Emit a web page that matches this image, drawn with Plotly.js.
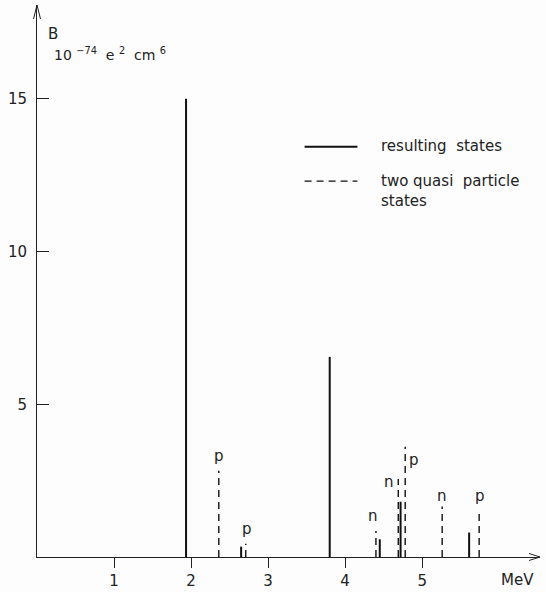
<!DOCTYPE html>
<html>
<head>
<meta charset="utf-8">
<script src="https://cdn.plot.ly/plotly-3.0.1.min.js"></script>
<style>html,body{margin:0;padding:0;background:#fff;}</style>
</head>
<body>
<div id="chart" style="width:546px;height:592px;"></div>
<script>
// Data (energy in MeV, B in 10^-74 e^2 cm^6)
const solidE = [1.935, 2.65, 3.80, 4.45, 4.72, 5.61];
const solidB = [15.0, 0.34, 6.55, 0.58, 1.81, 0.80];
const dashE = [2.36, 2.71, 4.40, 4.69, 4.78, 5.26, 5.74];
const dashB = [2.82, 0.43, 0.85, 2.55, 3.61, 1.65, 1.43];
const dashLabels = ['p', 'p', 'n', 'n', 'p', 'n', 'p'];
const xTicks = [1, 2, 3, 4, 5];
const yTicks = [5, 10, 15];

// label placement offsets (pixels), style only
const labelShift = [[0, 4], [1, 4], [-3, 4], [-9, -14], [9, -24], [0, 0], [1, 6]];

function sticks(xs, ys) {
  const X = [], Y = [];
  xs.forEach((x, i) => { X.push(x, x, null); Y.push(0, ys[i], null); });
  return {X, Y};
}
const s = sticks(solidE, solidB);
const d = sticks(dashE, dashB);
const ink = '#222222';
const font = {family: 'DejaVu Sans, sans-serif', size: 15, color: ink};

const traces = [
  {x: s.X, y: s.Y, mode: 'lines', line: {color: '#111', width: 2}, hoverinfo: 'skip', showlegend: false},
  {x: d.X, y: d.Y, mode: 'lines', line: {color: '#111', width: 1.4, dash: '7px,5px'}, hoverinfo: 'skip', showlegend: false}
];

const annotations = dashLabels.map((t, i) => ({
  x: dashE[i], y: dashB[i], xref: 'x', yref: 'y', text: t, showarrow: false,
  xanchor: 'center', yanchor: 'bottom', xshift: labelShift[i][0], yshift: labelShift[i][1],
  font: {family: font.family, size: 15, color: ink}
}));
annotations.push(
  {x: 0.018, y: 1.0, xref: 'paper', yref: 'paper', text: 'B', showarrow: false, xanchor: 'left', yanchor: 'top', yshift: -18, font: {family: font.family, size: 15, color: ink}},
  {x: 0.03, y: 1.0, xref: 'paper', yref: 'paper', text: '10 <sup>−74</sup>  e <sup>2</sup>  cm <sup>6</sup>', showarrow: false, xanchor: 'left', yanchor: 'top', yshift: -38, font: {family: font.family, size: 14, color: ink}},
  {x: 1.0, y: 0, xref: 'paper', yref: 'paper', text: 'MeV', showarrow: false, xanchor: 'right', yanchor: 'top', xshift: -4, yshift: -12, font: font},
  // legend text
  {x: 0.68, y: 0.745, xref: 'paper', yref: 'paper', text: 'resulting  states', showarrow: false, xanchor: 'left', yanchor: 'middle', font: font},
  {x: 0.68, y: 0.683, xref: 'paper', yref: 'paper', text: 'two quasi  particle<br>states', showarrow: false, xanchor: 'left', yanchor: 'top', yshift: 10, align: 'left', font: font}
);

const shapes = [
  // legend samples
  {type: 'line', xref: 'paper', yref: 'paper', x0: 0.532, x1: 0.637, y0: 0.743, y1: 0.743, line: {color: '#111', width: 2}},
  {type: 'line', xref: 'paper', yref: 'paper', x0: 0.532, x1: 0.637, y0: 0.681, y1: 0.681, line: {color: '#111', width: 1.4, dash: '7px,5px'}},
  // axis arrow heads
  {type: 'path', xref: 'paper', yref: 'paper', xsizemode: 'pixel', ysizemode: 'pixel', xanchor: 1, yanchor: 0,
   path: 'M -11 3.5 L 0 0 L -11 -3.5', line: {color: ink, width: 1}},
  {type: 'path', xref: 'paper', yref: 'paper', xsizemode: 'pixel', ysizemode: 'pixel', xanchor: 0, yanchor: 1,
   path: 'M -3.5 -14 L 0 0 L 3.5 -14', line: {color: ink, width: 1}}
];

const layout = {
  width: 546, height: 592,
  margin: {l: 37, r: 6, t: 5, b: 35},
  paper_bgcolor: '#fdfdfd', plot_bgcolor: '#fdfdfd',
  font: font,
  showlegend: false,
  xaxis: {range: [0, 6.53], tickvals: xTicks, ticktext: xTicks.map(String), ticks: 'outside', ticklen: 10, tickcolor: ink, tickwidth: 1,
          showline: true, linecolor: ink, linewidth: 1, showgrid: false, zeroline: false, fixedrange: true, tickfont: font},
  yaxis: {range: [0, 18.07], tickvals: yTicks, ticktext: yTicks.map(String), ticks: 'inside', ticklen: 12, tickcolor: ink, tickwidth: 1,
          showline: true, linecolor: ink, linewidth: 1, showgrid: false, zeroline: false, fixedrange: true, ticklabelstandoff: 6, tickfont: font},
  annotations: annotations,
  shapes: shapes
};

Plotly.newPlot('chart', traces, layout, {displayModeBar: false, staticPlot: true});
</script>
</body>
</html>
